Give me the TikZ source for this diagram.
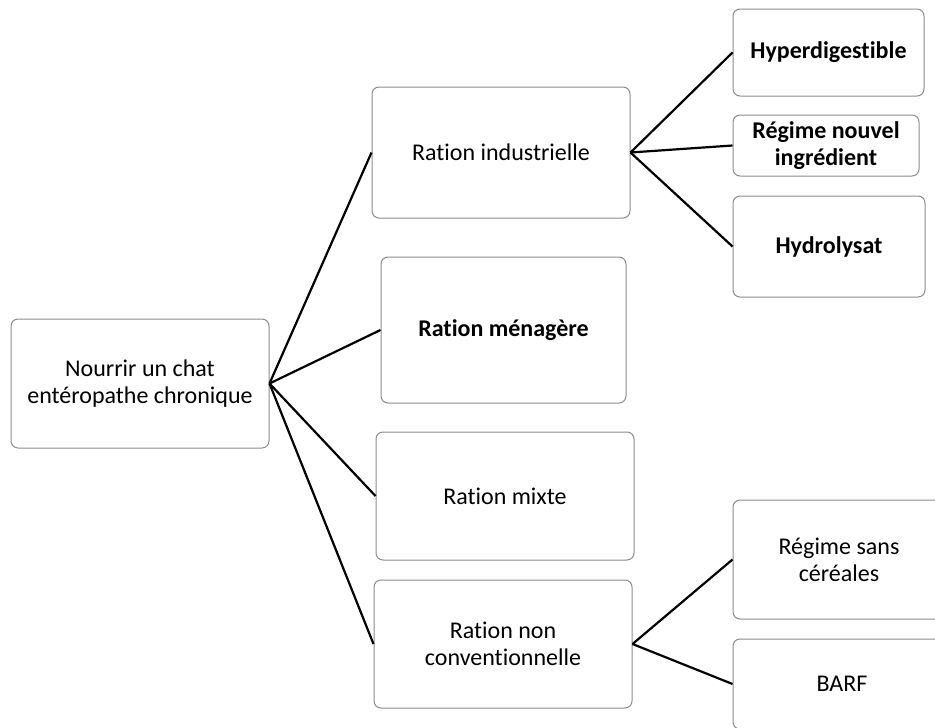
\documentclass[tikz,border=0pt]{standalone}
\usepackage{fontspec}
\setmainfont[Ligatures={NoCommon,NoContextual},RawFeature={-liga}]{Carlito}

\begin{document}
\begin{tikzpicture}[x=1pt,y=-1pt,
    box/.style={draw=black!45,line width=1pt,rounded corners=7pt,fill=white,
      align=center,inner sep=0pt,font=\fontsize{24}{27}\selectfont},
    bbox/.style={box,font=\fontsize{24}{27}\selectfont\bfseries},
    link/.style={line width=2.2pt,black}]
    \clip(0,0)rectangle(935,728);
    \fill[white](0,0)rectangle(935,728);
    % racine
    \node[box,minimum width=258,minimum height=129](chat)at(140,383.5)
      {Nourrir un chat\\entéropathe chronique};
    % rations
    \node[box,minimum width=258,minimum height=131](indus)at(501,152.5){Ration industrielle};
    \node[bbox,minimum width=245,minimum height=146](menag)at(503.5,330){Ration ménagère};
    \node[box,minimum width=258,minimum height=128](mixte)at(505,496){Ration mixte};
    \node[box,minimum width=258,minimum height=128](noconv)at(503,644)
      {Ration non\\conventionnelle};
    % regimes
    \node[bbox,minimum width=191,minimum height=87](hyper)at(828.5,52.5){Hyperdigestible};
    \node[bbox,minimum width=186,minimum height=61](nouvel)at(826,145.5)
      {Régime nouvel\\ingrédient};
    \node[bbox,minimum width=192,minimum height=101](hydro)at(829,246.5){Hydrolysat};
    \node[box,minimum width=212,minimum height=119](sanscer)at(839,559.5)
      {Régime sans\\céréales};
    \node[box,minimum width=218,minimum height=90](barf)at(842,684){BARF};
    % liens
    \foreach \n in {indus,menag,mixte,noconv}
      \draw[link](chat.east)--(\n.west);
    \foreach \n in {hyper,nouvel,hydro}
      \draw[link](indus.east)--(\n.west);
    \foreach \n in {sanscer,barf}
      \draw[link](noconv.east)--(\n.west);
  \end{tikzpicture}
\end{document}
